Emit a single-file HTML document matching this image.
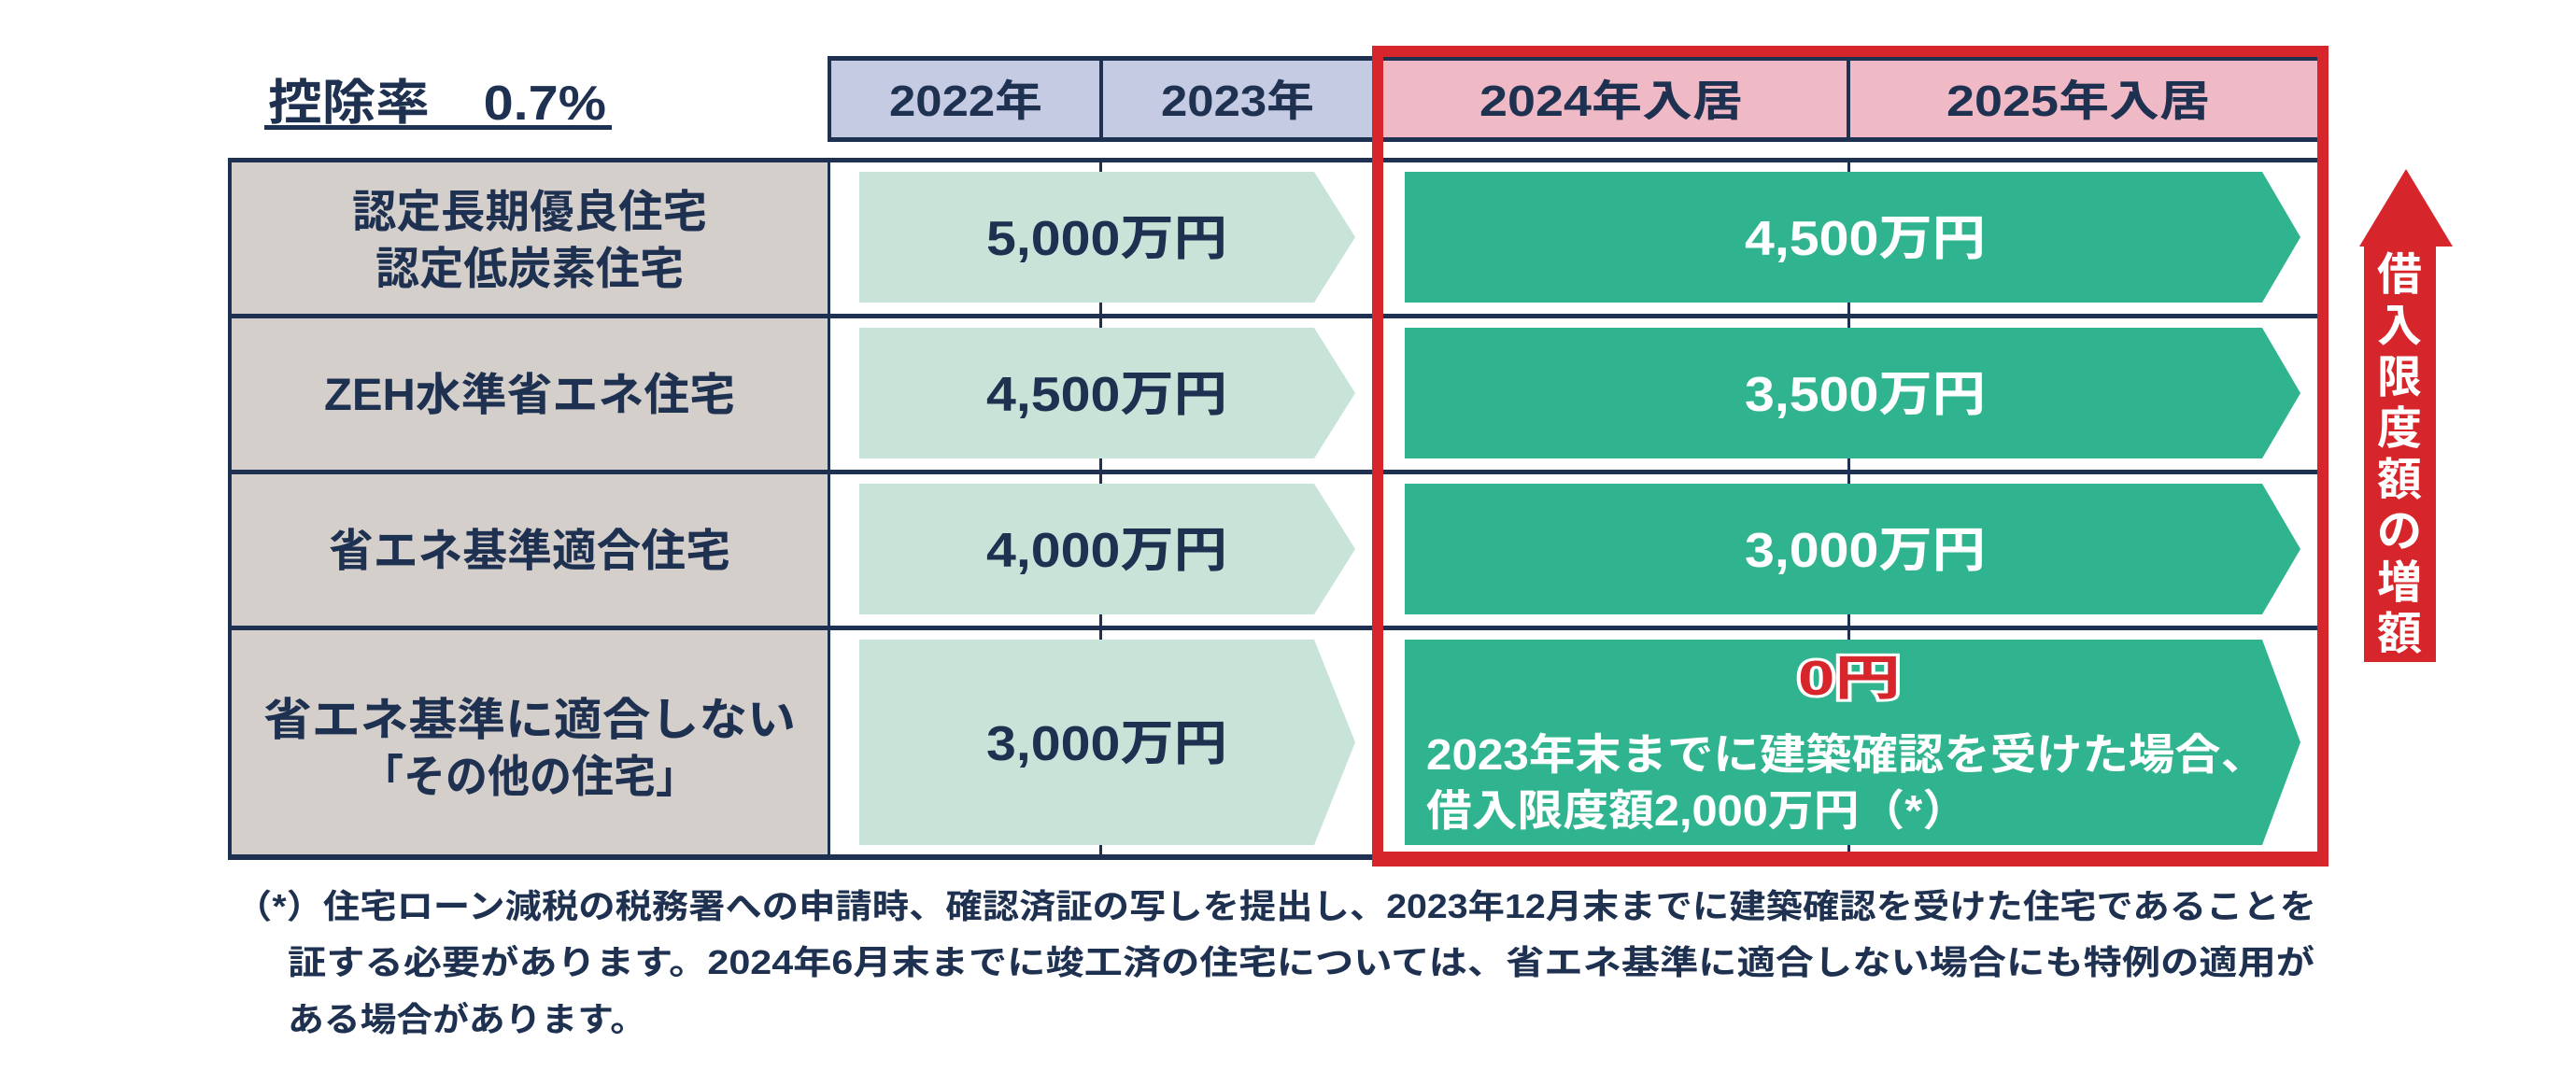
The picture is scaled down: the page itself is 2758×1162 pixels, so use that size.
<!DOCTYPE html>
<html><head><meta charset="utf-8"><style>
html,body{margin:0;padding:0;background:#fff;}
svg{display:block;}
text{font-family:"Liberation Sans","Noto Sans CJK JP",sans-serif;font-weight:bold;}
</style></head><body>
<svg width="2758" height="1162" viewBox="0 0 2758 1162" xmlns="http://www.w3.org/2000/svg">
<rect width="2758" height="1162" fill="#fff"/>
<!-- title -->
<text x="287" y="128" font-size="52" fill="#1f3150" textLength="362" lengthAdjust="spacingAndGlyphs">控除率　0.7%</text>
<rect x="283" y="134" width="372" height="5" fill="#1f3150"/>
<!-- header -->
<rect x="888" y="62" width="582" height="88" fill="#c5cbe3"/>
<rect x="1470" y="62" width="1015" height="88" fill="#f0b9c6"/>
<rect x="888" y="60" width="1597" height="5" fill="#1f3150"/>
<rect x="888" y="147" width="1597" height="5" fill="#1f3150"/>
<rect x="886" y="60" width="4" height="92" fill="#1f3150"/>
<rect x="1177" y="60" width="4" height="92" fill="#1f3150"/>
<rect x="1977" y="60" width="4" height="92" fill="#1f3150"/>
<text x="1034" y="124" font-size="46" fill="#1f3150" text-anchor="middle" textLength="164" lengthAdjust="spacingAndGlyphs">2022年</text>
<text x="1325" y="124" font-size="46" fill="#1f3150" text-anchor="middle" textLength="164" lengthAdjust="spacingAndGlyphs">2023年</text>
<text x="1725" y="124" font-size="46" fill="#1f3150" text-anchor="middle" textLength="282" lengthAdjust="spacingAndGlyphs">2024年入居</text>
<text x="2225" y="124" font-size="46" fill="#1f3150" text-anchor="middle" textLength="282" lengthAdjust="spacingAndGlyphs">2025年入居</text>
<!-- left column -->
<rect x="246" y="171" width="642" height="747" fill="#d5cfcc"/>
<!-- vertical thin lines -->
<rect x="1177" y="171" width="3" height="747" fill="#1f3150"/>
<rect x="1978" y="171" width="3" height="747" fill="#1f3150"/>
<rect x="886" y="171" width="3" height="747" fill="#1f3150"/>
<rect x="244" y="171" width="4" height="747" fill="#1f3150"/>
<!-- light arrows -->
<g fill="#c8e4d8">
<polygon points="920,184 1407,184 1451,254 1407,324 920,324"/>
<polygon points="920,351 1407,351 1451,421 1407,491 920,491"/>
<polygon points="920,518 1407,518 1451,588 1407,658 920,658"/>
<polygon points="920,685 1407,685 1451,795 1407,905 920,905"/>
</g>
<!-- dark arrows -->
<g fill="#2fb48f">
<polygon points="1504,184 2422,184 2463,254 2422,324 1504,324"/>
<polygon points="1504,351 2422,351 2463,421 2422,491 1504,491"/>
<polygon points="1504,518 2422,518 2463,588 2422,658 1504,658"/>
<polygon points="1504,685 2422,685 2463,795 2422,905 1504,905"/>
</g>
<!-- horizontal row lines -->
<g fill="#1f3150">
<rect x="244" y="169" width="2240" height="5"/>
<rect x="244" y="336" width="2240" height="5"/>
<rect x="244" y="503" width="2240" height="5"/>
<rect x="244" y="670" width="2240" height="5"/>
<rect x="244" y="915" width="1230" height="6"/>
</g>
<!-- labels -->
<g fill="#1f3150" font-size="48" text-anchor="middle">
<text x="567" y="243" textLength="380" lengthAdjust="spacingAndGlyphs">認定長期優良住宅</text>
<text x="567" y="304" textLength="330" lengthAdjust="spacingAndGlyphs">認定低炭素住宅</text>
<text x="567" y="439" textLength="440" lengthAdjust="spacingAndGlyphs">ZEH水準省エネ住宅</text>
<text x="567" y="606" textLength="430" lengthAdjust="spacingAndGlyphs">省エネ基準適合住宅</text>
<text x="567" y="787" textLength="570" lengthAdjust="spacingAndGlyphs">省エネ基準に適合しない</text>
<text x="567" y="848" textLength="360" lengthAdjust="spacingAndGlyphs">「その他の住宅」</text>
</g>
<g fill="#1f3150" font-size="52" text-anchor="middle">
<text x="1185" y="273" textLength="258" lengthAdjust="spacingAndGlyphs">5,000万円</text>
<text x="1185" y="440" textLength="258" lengthAdjust="spacingAndGlyphs">4,500万円</text>
<text x="1185" y="607" textLength="258" lengthAdjust="spacingAndGlyphs">4,000万円</text>
<text x="1185" y="814" textLength="258" lengthAdjust="spacingAndGlyphs">3,000万円</text>
</g>
<g fill="#fff" font-size="52" text-anchor="middle">
<text x="1997" y="273" textLength="258" lengthAdjust="spacingAndGlyphs">4,500万円</text>
<text x="1997" y="440" textLength="258" lengthAdjust="spacingAndGlyphs">3,500万円</text>
<text x="1997" y="607" textLength="258" lengthAdjust="spacingAndGlyphs">3,000万円</text>
</g>
<text x="1980" y="744" font-size="52" fill="#d7262b" stroke="#fff" stroke-width="6" paint-order="stroke" text-anchor="middle" textLength="110" lengthAdjust="spacingAndGlyphs">0円</text>
<text x="1527" y="824" font-size="46" fill="#fff" textLength="900" lengthAdjust="spacingAndGlyphs">2023年末までに建築確認を受けた場合、</text>
<text x="1527" y="884" font-size="46" fill="#fff" textLength="580" lengthAdjust="spacingAndGlyphs">借入限度額2,000万円（*）</text>
<!-- red frame -->
<rect x="1475" y="55" width="1012" height="866" fill="none" stroke="#d7262b" stroke-width="12"/>
<rect x="1469" y="912" width="1024" height="16" fill="#d7262b"/>
<!-- right arrow -->
<polygon points="2576,181 2626,264 2608,264 2608,709 2531,709 2531,264 2526,264" fill="#d7262b"/>
<g fill="#fff" font-size="48" text-anchor="middle">
<text x="2569" y="310">借</text>
<text x="2569" y="365">入</text>
<text x="2569" y="420">限</text>
<text x="2569" y="475">度</text>
<text x="2569" y="530">額</text>
<text x="2569" y="585">の</text>
<text x="2569" y="640">増</text>
<text x="2569" y="695">額</text>
</g>
<!-- footnote -->
<g fill="#1f3150" font-size="36">
<text x="252" y="983" textLength="2228" lengthAdjust="spacingAndGlyphs">（*）住宅ローン減税の税務署への申請時、確認済証の写しを提出し、2023年12月末までに建築確認を受けた住宅であることを</text>
<text x="308" y="1043" textLength="2170" lengthAdjust="spacingAndGlyphs">証する必要があります。2024年6月末までに竣工済の住宅については、省エネ基準に適合しない場合にも特例の適用が</text>
<text x="308" y="1104" textLength="384" lengthAdjust="spacingAndGlyphs">ある場合があります。</text>
</g>
</svg>
</body></html>
